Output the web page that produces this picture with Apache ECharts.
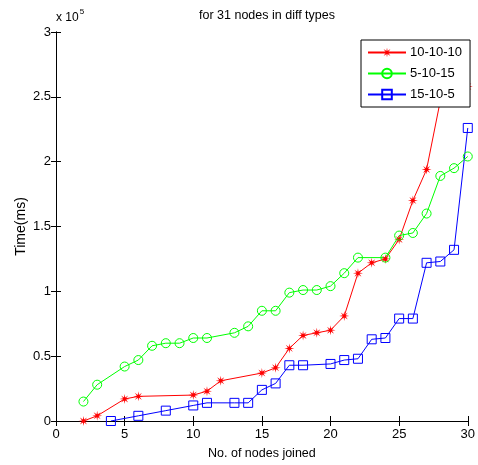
<!DOCTYPE html>
<html>
<head>
<meta charset="utf-8">
<script src="https://cdn.jsdelivr.net/npm/echarts@6/dist/echarts.min.js"></script>
<style>
  html, body { margin: 0; padding: 0; background: #fff; }
  #main { width: 478px; height: 465px; }
</style>
</head>
<body>
<div id="main"></div>
<script>
// values in units of 10^5 ms
const xRed = [2, 3, 5, 6, 10, 11, 12, 15, 16, 17, 18, 19, 20, 21, 22, 23, 24, 25, 26, 27, 28, 29, 30];
const yRed = [0, 0.04, 0.17, 0.19, 0.20, 0.23, 0.31, 0.37, 0.41, 0.56, 0.66, 0.68, 0.70, 0.81, 1.14, 1.22, 1.25, 1.40, 1.70, 1.94, 2.47, 2.53, 2.58];

const xGreen = [2, 3, 5, 6, 7, 8, 9, 10, 11, 13, 14, 15, 16, 17, 18, 19, 20, 21, 22, 24, 25, 26, 27, 28, 29, 30];
const yGreen = [0.15, 0.28, 0.42, 0.47, 0.58, 0.60, 0.60, 0.64, 0.64, 0.68, 0.73, 0.85, 0.85, 0.99, 1.01, 1.01, 1.04, 1.14, 1.26, 1.26, 1.43, 1.45, 1.60, 1.89, 1.95, 2.04];

const xBlue = [4, 6, 8, 10, 11, 13, 14, 15, 16, 17, 18, 20, 21, 22, 23, 24, 25, 26, 27, 28, 29, 30];
const yBlue = [0, 0.04, 0.08, 0.12, 0.14, 0.14, 0.14, 0.24, 0.29, 0.43, 0.43, 0.44, 0.47, 0.48, 0.63, 0.64, 0.79, 0.79, 1.22, 1.23, 1.32, 2.26];

const seriesNames = ['10-10-10', '5-10-15', '15-10-5'];

const font = "'Liberation Sans', Arial, sans-serif";

// asterisk marker built as 8 point star
function starPath() {
  let pts = [];
  for (let i = 0; i < 16; i++) {
    const a = i * Math.PI / 8 - Math.PI / 2;
    const r = i % 2 === 0 ? 1 : 0.32;
    pts.push((r * Math.cos(a)).toFixed(3) + ',' + (r * Math.sin(a)).toFixed(3));
  }
  return 'path://M' + pts.join(' L') + ' Z';
}

function zip(xs, ys) {
  return xs.map((x, i) => [x, ys[i]]);
}

const axisCommon = {
  type: 'value',
  axisLine: { show: true, lineStyle: { color: '#000', width: 1 } },
  axisTick: { show: true, inside: true, length: 5, lineStyle: { color: '#000' } },
  splitLine: { show: false }
};

const option = {
  backgroundColor: '#fff',
  animation: false,
  title: {
    text: 'for 31 nodes in diff types',
    left: 262,
    top: 4,
    textAlign: 'center',
    textStyle: { fontFamily: font, fontSize: 12.5, fontWeight: 'normal', color: '#000' }
  },
  grid: { left: 56, right: 8, top: 32, bottom: 43 },
  legend: {
    data: seriesNames,
    orient: 'vertical',
    left: 361,
    top: 40,
    width: 106,
    padding: [6, 8, 6, 6],
    itemWidth: 38,
    itemHeight: 12,
    itemGap: 8,
    backgroundColor: '#fff',
    borderColor: '#000',
    borderWidth: 1,
    textStyle: { fontFamily: font, fontSize: 13, color: '#000', padding: [0, 0, 0, -1] }
  },
  xAxis: [
    Object.assign({}, axisCommon, {
      min: 0, max: 30, interval: 5,
      position: 'bottom',
      name: 'No. of nodes joined',
      nameLocation: 'middle',
      nameGap: 26,
      nameMoveOverlap: false,
      nameTextStyle: { fontFamily: font, fontSize: 12.5, color: '#000' },
      axisLabel: { fontFamily: font, fontSize: 13, color: '#000', margin: 7 }
    }),
    Object.assign({}, axisCommon, {
      min: 0, max: 30, interval: 5,
      position: 'top',
      axisLabel: { show: false }
    })
  ],
  yAxis: [
    Object.assign({}, axisCommon, {
      min: 0, max: 3, interval: 0.5,
      position: 'left',
      name: 'Time(ms)',
      nameLocation: 'middle',
      nameGap: 28,
      nameMoveOverlap: false,
      nameTextStyle: { fontFamily: font, fontSize: 14, color: '#000' },
      axisLabel: { fontFamily: font, fontSize: 13, color: '#000', margin: 5 }
    }),
    Object.assign({}, axisCommon, {
      min: 0, max: 3, interval: 0.5,
      position: 'right',
      axisLabel: { show: false }
    })
  ],
  graphic: [{
    type: 'text',
    left: 56,
    top: 8,
    style: {
      text: '{a|x 10}{b|5}',
      rich: {
        a: { fontFamily: font, fontSize: 12, fill: '#000', verticalAlign: 'bottom' },
        b: { fontFamily: font, fontSize: 8, fill: '#000', verticalAlign: 'top', padding: [0, 0, 8, 1] }
      }
    }
  }],
  series: [{
    name: seriesNames[0],
    type: 'line',
    data: zip(xRed, yRed),
    symbol: starPath(),
    symbolSize: 10,
    showAllSymbol: true,
    color: '#ff0000',
    lineStyle: { width: 1, color: '#ff0000' },
    itemStyle: { color: '#ff0000' }
  }, {
    name: seriesNames[1],
    type: 'line',
    data: zip(xGreen, yGreen),
    symbol: 'circle',
    symbolSize: 9,
    showAllSymbol: true,
    color: '#00ff00',
    lineStyle: { width: 1, color: '#00ff00' },
    itemStyle: { color: 'rgba(255,255,255,0)', borderColor: '#00ff00', borderWidth: 1 }
  }, {
    name: seriesNames[2],
    type: 'line',
    data: zip(xBlue, yBlue),
    symbol: 'rect',
    symbolSize: 9,
    showAllSymbol: true,
    color: '#0000ff',
    lineStyle: { width: 1, color: '#0000ff' },
    itemStyle: { color: 'rgba(255,255,255,0)', borderColor: '#0000ff', borderWidth: 1 }
  }]
};

const chart = echarts.init(document.getElementById('main'), null, { renderer: 'canvas' });
chart.setOption(option);
</script>
</body>
</html>
